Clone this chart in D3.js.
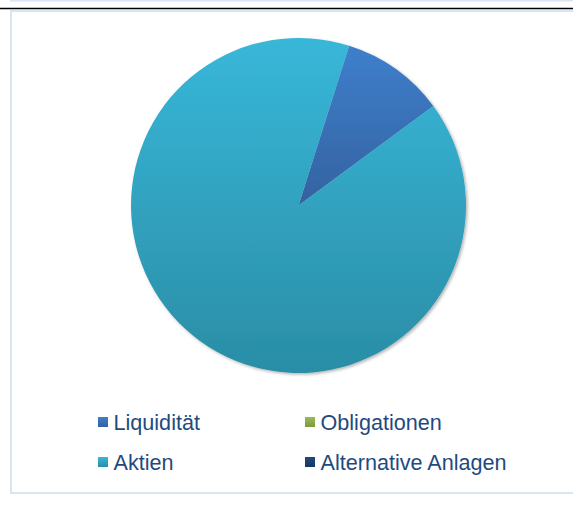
<!DOCTYPE html>
<html>
<head>
  <meta charset="utf-8">
  <style>
    body { margin: 0; background: #fff; }
    .legend-label {
      fill: #1f4a7e;
      font-family: "Liberation Sans", Arial, sans-serif;
      font-size: 21.6px;
    }
  </style>
  <script src="https://d3js.org/d3.v7.min.js"></script>
</head>
<body>
  <div id="chartContainer"></div>

  <script>
    var categories = ["Liquidität", "Obligationen", "Aktien", "Alternative Anlagen"];
    var values = [10, 0, 90, 0];
    var topColors = ["#3e7fcc", "#9bbb59", "#38b7d9", "#1f4a7e"];
    var bottomColors = ["#3462a0", "#7a9a3e", "#2b8da6", "#17375e"];

    var svgWidth = 573, svgHeight = 515;
    var cx = 298.5, cy = 205.5, radius = 167.5;

    var svg = d3.select("#chartContainer")
      .append("svg")
      .attr("width", svgWidth)
      .attr("height", svgHeight);

    var defs = svg.append("defs");

    // gradients for each slice (top to bottom)
    categories.forEach(function (c, i) {
      var g = defs.append("linearGradient")
        .attr("id", "grad" + i)
        .attr("x1", 0).attr("y1", 0).attr("x2", 0).attr("y2", 1);
      g.append("stop").attr("offset", "0%").attr("stop-color", topColors[i]);
      g.append("stop").attr("offset", "100%").attr("stop-color", bottomColors[i]);
    });

    var shadow = defs.append("filter").attr("id", "shadow")
      .attr("x", "-10%").attr("y", "-10%").attr("width", "120%").attr("height", "120%");
    shadow.append("feDropShadow")
      .attr("dx", 1.5).attr("dy", 1.5).attr("stdDeviation", 1.5)
      .attr("flood-color", "#000").attr("flood-opacity", 0.3);

    // frame lines
    svg.append("line").attr("x1", 10).attr("x2", svgWidth).attr("y1", 0.5).attr("y2", 0.5)
      .attr("stroke", "#dbe5f1").attr("stroke-width", 2);
    svg.append("line").attr("x1", 0).attr("x2", svgWidth).attr("y1", 8.5).attr("y2", 8.5)
      .attr("stroke", "#000").attr("stroke-width", 1.5);
    svg.append("path")
      .attr("d", "M" + svgWidth + ",11 H11 V493 H" + svgWidth)
      .attr("fill", "none")
      .attr("stroke", "#dbe5f1")
      .attr("stroke-width", 2);

    var startOffset = 17.6 * Math.PI / 180;

    var pie = d3.pie()
      .sort(null)
      .value(function (d) { return d.value; })
      .startAngle(startOffset)
      .endAngle(startOffset + 2 * Math.PI);

    var data = categories.map(function (c, i) {
      return { name: c, value: values[i], index: i };
    });

    var arc = d3.arc().innerRadius(0).outerRadius(radius);

    var chart = svg.append("g")
      .attr("transform", "translate(" + cx + "," + cy + ")")
      .attr("filter", "url(#shadow)");

    chart.selectAll(".slice")
      .data(pie(data).filter(function (d) { return d.value > 0; }))
      .enter()
      .append("path")
      .attr("class", "slice")
      .attr("d", arc)
      .attr("fill", function (d) { return "url(#grad" + d.data.index + ")"; });

    // legend, 2 columns
    var colX = [98, 305];
    var rowY = [422, 462];

    var legend = svg.selectAll(".legend-item")
      .data(data)
      .enter()
      .append("g")
      .attr("class", "legend-item")
      .attr("transform", function (d, i) {
        return "translate(" + colX[i % 2] + "," + rowY[Math.floor(i / 2)] + ")";
      });

    legend.append("rect")
      .attr("x", 0)
      .attr("y", -5)
      .attr("width", 10)
      .attr("height", 10)
      .attr("fill", function (d) { return "url(#grad" + d.index + ")"; });

    legend.append("text")
      .attr("class", "legend-label")
      .attr("x", 15.5)
      .attr("y", 7.5)
      .text(function (d) { return d.name; });
  </script>
</body>
</html>
